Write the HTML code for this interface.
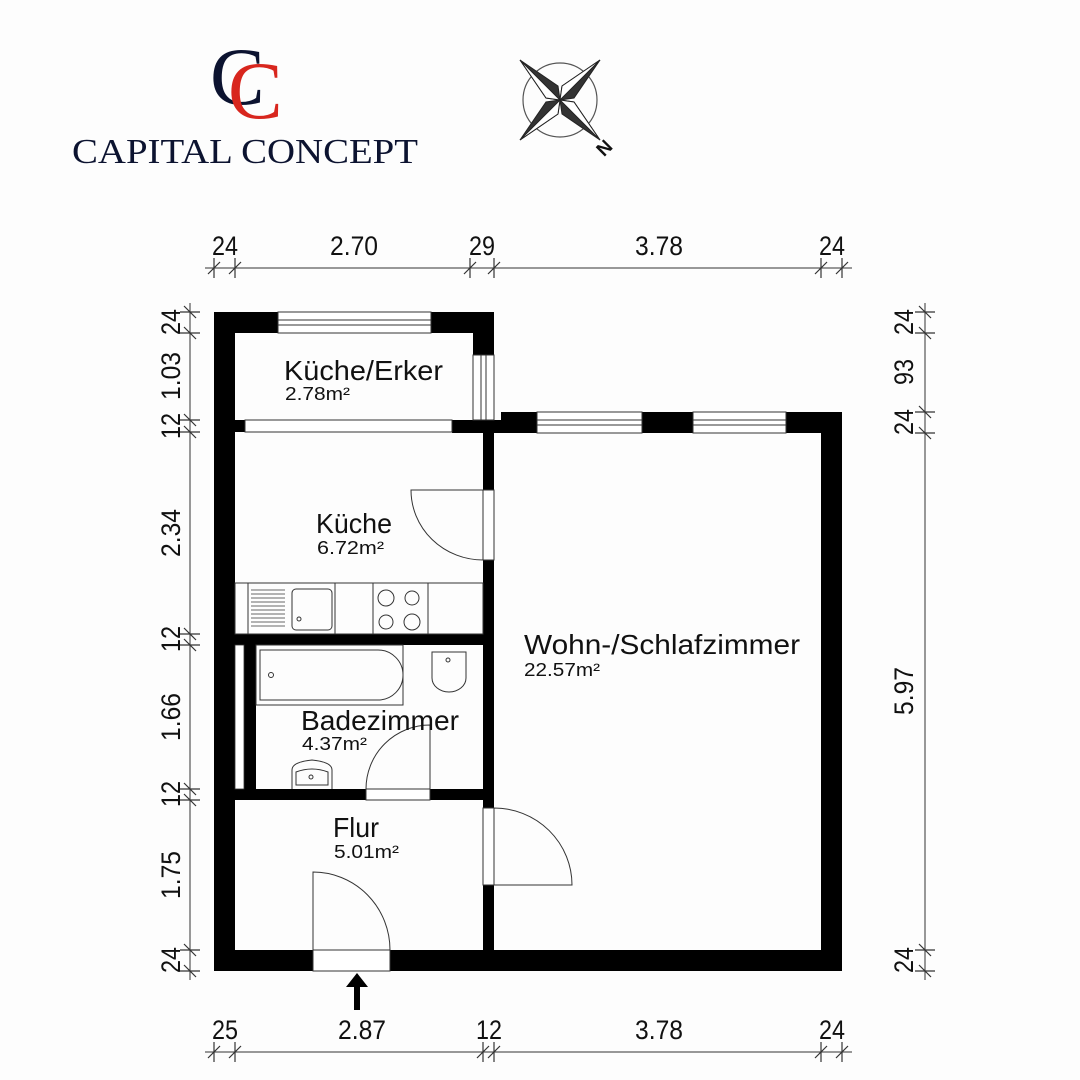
<!DOCTYPE html>
<html><head><meta charset="utf-8"><style>
html,body{margin:0;padding:0;background:#fdfdfd}
svg{display:block}
text{font-family:"Liberation Sans",sans-serif;fill:#111}
.d{font-size:27px}
.r{font-size:28px}
.a{font-size:18px}
</style></head><body>
<svg width="1080" height="1080" viewBox="0 0 1080 1080" xmlns="http://www.w3.org/2000/svg">
<rect width="1080" height="1080" fill="#fdfdfd"/>
<text x="210" y="104" style="font-family:'Liberation Serif',serif;font-size:82px;fill:#0c1330">C</text>
<text x="228" y="118" style="font-family:'Liberation Serif',serif;font-size:82px;fill:#d8261e">C</text>
<text x="72" y="163" style="font-family:'Liberation Serif',serif;font-size:35px;fill:#0c1330" textLength="346" lengthAdjust="spacingAndGlyphs">CAPITAL CONCEPT</text>
<g transform="translate(560,100)">
<circle r="37" fill="none" stroke="#555" stroke-width="1.2"/>
<g stroke="#222" stroke-width="1">
<polygon points="-40,-40 -2,-14 0,0 -14,-2" fill="#333"/>
<polygon points="40,-40 14,-2 0,0 2,-14" fill="#333"/>
<polygon points="40,40 2,14 0,0 14,2" fill="#333"/>
<polygon points="-40,40 -14,2 0,0 -2,14" fill="#333"/>
<polygon points="-40,-40 -14,-2 0,0" fill="#fff"/>
<polygon points="40,-40 2,-14 0,0" fill="#fff"/>
<polygon points="40,40 14,2 0,0" fill="#fff"/>
<polygon points="-40,40 -2,14 0,0" fill="#fff"/>
</g>
<text x="36" y="54" transform="rotate(-45 44 46)" style="font-size:19px;font-weight:bold">N</text>
</g>

<g stroke="#333" stroke-width="1" fill="none">
<line x1="205" y1="268" x2="852" y2="268"/>
<line x1="205" y1="1052" x2="852" y2="1052"/>
<line x1="190" y1="303" x2="190" y2="980"/>
<line x1="925" y1="303" x2="925" y2="980"/>
</g>
<g stroke="#333" stroke-width="1.2">
<g><line x1="214" y1="258" x2="214" y2="278"/><line x1="208" y1="274" x2="220" y2="262"/></g>
<g><line x1="235" y1="258" x2="235" y2="278"/><line x1="229" y1="274" x2="241" y2="262"/></g>
<g><line x1="470" y1="258" x2="470" y2="278"/><line x1="464" y1="274" x2="476" y2="262"/></g>
<g><line x1="494" y1="258" x2="494" y2="278"/><line x1="488" y1="274" x2="500" y2="262"/></g>
<g><line x1="821" y1="258" x2="821" y2="278"/><line x1="815" y1="274" x2="827" y2="262"/></g>
<g><line x1="842" y1="258" x2="842" y2="278"/><line x1="836" y1="274" x2="848" y2="262"/></g>
<g><line x1="214" y1="1042" x2="214" y2="1062"/><line x1="208" y1="1058" x2="220" y2="1046"/></g>
<g><line x1="235" y1="1042" x2="235" y2="1062"/><line x1="229" y1="1058" x2="241" y2="1046"/></g>
<g><line x1="483" y1="1042" x2="483" y2="1062"/><line x1="477" y1="1058" x2="489" y2="1046"/></g>
<g><line x1="494" y1="1042" x2="494" y2="1062"/><line x1="488" y1="1058" x2="500" y2="1046"/></g>
<g><line x1="821" y1="1042" x2="821" y2="1062"/><line x1="815" y1="1058" x2="827" y2="1046"/></g>
<g><line x1="842" y1="1042" x2="842" y2="1062"/><line x1="836" y1="1058" x2="848" y2="1046"/></g>
<line x1="180" y1="312" x2="200" y2="312"/><line x1="184" y1="306" x2="196" y2="318"/>
<line x1="180" y1="333" x2="200" y2="333"/><line x1="184" y1="327" x2="196" y2="339"/>
<line x1="180" y1="420" x2="200" y2="420"/><line x1="184" y1="414" x2="196" y2="426"/>
<line x1="180" y1="432" x2="200" y2="432"/><line x1="184" y1="426" x2="196" y2="438"/>
<line x1="180" y1="634" x2="200" y2="634"/><line x1="184" y1="628" x2="196" y2="640"/>
<line x1="180" y1="645" x2="200" y2="645"/><line x1="184" y1="639" x2="196" y2="651"/>
<line x1="180" y1="789" x2="200" y2="789"/><line x1="184" y1="783" x2="196" y2="795"/>
<line x1="180" y1="800" x2="200" y2="800"/><line x1="184" y1="794" x2="196" y2="806"/>
<line x1="180" y1="950" x2="200" y2="950"/><line x1="184" y1="944" x2="196" y2="956"/>
<line x1="180" y1="971" x2="200" y2="971"/><line x1="184" y1="965" x2="196" y2="977"/>
<line x1="915" y1="312" x2="935" y2="312"/><line x1="919" y1="306" x2="931" y2="318"/>
<line x1="915" y1="333" x2="935" y2="333"/><line x1="919" y1="327" x2="931" y2="339"/>
<line x1="915" y1="412" x2="935" y2="412"/><line x1="919" y1="406" x2="931" y2="418"/>
<line x1="915" y1="433" x2="935" y2="433"/><line x1="919" y1="427" x2="931" y2="439"/>
<line x1="915" y1="950" x2="935" y2="950"/><line x1="919" y1="944" x2="931" y2="956"/>
<line x1="915" y1="971" x2="935" y2="971"/><line x1="919" y1="965" x2="931" y2="977"/>
</g>
<g>
<text x="212" y="255" class="d" textLength="26" lengthAdjust="spacingAndGlyphs">24</text>
<text x="330" y="255" class="d" textLength="48" lengthAdjust="spacingAndGlyphs">2.70</text>
<text x="469" y="255" class="d" textLength="26" lengthAdjust="spacingAndGlyphs">29</text>
<text x="635" y="255" class="d" textLength="48" lengthAdjust="spacingAndGlyphs">3.78</text>
<text x="819" y="255" class="d" textLength="26" lengthAdjust="spacingAndGlyphs">24</text>
<text x="212" y="1039" class="d" textLength="26" lengthAdjust="spacingAndGlyphs">25</text>
<text x="338" y="1039" class="d" textLength="48" lengthAdjust="spacingAndGlyphs">2.87</text>
<text x="476" y="1039" class="d" textLength="26" lengthAdjust="spacingAndGlyphs">12</text>
<text x="635" y="1039" class="d" textLength="48" lengthAdjust="spacingAndGlyphs">3.78</text>
<text x="819" y="1039" class="d" textLength="26" lengthAdjust="spacingAndGlyphs">24</text>
<text transform="translate(180,335) rotate(-90)" class="d" textLength="26" lengthAdjust="spacingAndGlyphs">24</text>
<text transform="translate(180,400) rotate(-90)" class="d" textLength="48" lengthAdjust="spacingAndGlyphs">1.03</text>
<text transform="translate(180,439) rotate(-90)" class="d" textLength="26" lengthAdjust="spacingAndGlyphs">12</text>
<text transform="translate(180,557) rotate(-90)" class="d" textLength="48" lengthAdjust="spacingAndGlyphs">2.34</text>
<text transform="translate(180,652) rotate(-90)" class="d" textLength="26" lengthAdjust="spacingAndGlyphs">12</text>
<text transform="translate(180,741) rotate(-90)" class="d" textLength="48" lengthAdjust="spacingAndGlyphs">1.66</text>
<text transform="translate(180,807) rotate(-90)" class="d" textLength="26" lengthAdjust="spacingAndGlyphs">12</text>
<text transform="translate(180,899) rotate(-90)" class="d" textLength="48" lengthAdjust="spacingAndGlyphs">1.75</text>
<text transform="translate(180,973) rotate(-90)" class="d" textLength="26" lengthAdjust="spacingAndGlyphs">24</text>
<text transform="translate(913,335) rotate(-90)" class="d" textLength="26" lengthAdjust="spacingAndGlyphs">24</text>
<text transform="translate(913,385) rotate(-90)" class="d" textLength="26" lengthAdjust="spacingAndGlyphs">93</text>
<text transform="translate(913,435) rotate(-90)" class="d" textLength="26" lengthAdjust="spacingAndGlyphs">24</text>
<text transform="translate(913,715) rotate(-90)" class="d" textLength="48" lengthAdjust="spacingAndGlyphs">5.97</text>
<text transform="translate(913,973) rotate(-90)" class="d" textLength="26" lengthAdjust="spacingAndGlyphs">24</text>
</g>

<g fill="#000">
<rect x="214" y="312" width="21" height="659"/>
<rect x="214" y="312" width="64" height="21"/>
<rect x="431" y="312" width="63" height="21"/>
<rect x="473" y="312" width="21" height="43"/>
<rect x="235" y="420" width="10" height="12"/>
<rect x="452" y="420" width="49" height="13"/>
<rect x="501" y="412" width="36" height="21"/>
<rect x="642" y="412" width="51" height="21"/>
<rect x="786" y="412" width="56" height="21"/>
<rect x="821" y="412" width="21" height="559"/>
<rect x="214" y="950" width="99" height="21"/>
<rect x="390" y="950" width="452" height="21"/>
<rect x="483" y="420" width="11" height="70"/>
<rect x="483" y="560" width="11" height="248"/>
<rect x="483" y="885" width="11" height="65"/>
<rect x="235" y="634" width="259" height="11"/>
<rect x="244" y="645" width="12" height="144"/>
<rect x="235" y="789" width="131" height="11"/>
<rect x="430" y="789" width="64" height="11"/>
</g>
<g fill="#fff" stroke="#333" stroke-width="1">
<rect x="278" y="312" width="153" height="21"/>
<line x1="278" y1="320" x2="431" y2="320"/><line x1="278" y1="325" x2="431" y2="325"/>
<rect x="473" y="355" width="21" height="65"/>
<line x1="481" y1="355" x2="481" y2="420"/><line x1="486" y1="355" x2="486" y2="420"/>
<rect x="245" y="420" width="207" height="12"/>
<rect x="537" y="412" width="105" height="21"/>
<line x1="537" y1="420" x2="642" y2="420"/><line x1="537" y1="425" x2="642" y2="425"/>
<rect x="693" y="412" width="93" height="21"/>
<line x1="693" y1="420" x2="786" y2="420"/><line x1="693" y1="425" x2="786" y2="425"/>
<rect x="483" y="490" width="11" height="70"/>
<rect x="483" y="808" width="11" height="77"/>
<rect x="313" y="950" width="77" height="21"/>
<rect x="366" y="789" width="64" height="11"/>
</g>
<rect x="235" y="645" width="9" height="144" fill="#fff" stroke="#333" stroke-width="0.8"/>
<g fill="none" stroke="#333" stroke-width="1">
<path d="M483 490 L411 490 A72 70 0 0 0 483 560"/>
<path d="M494 808 L494 885 L572 885 A78 77 0 0 0 494 808"/>
<path d="M313 950 L313 872 A77 78 0 0 1 390 950"/>
<path d="M430 789 L430 725 A64 64 0 0 0 366 789"/>
</g>
<g fill="none" stroke="#333" stroke-width="1">
<rect x="235" y="583" width="248" height="51"/>
<line x1="248" y1="583" x2="248" y2="634"/>
<line x1="335" y1="583" x2="335" y2="634"/>
<line x1="373" y1="583" x2="373" y2="634"/>
<line x1="428" y1="583" x2="428" y2="634"/>
<rect x="292" y="589" width="40" height="41" rx="4"/>
<circle cx="299" cy="619" r="2"/>
<circle cx="386" cy="598" r="8"/><circle cx="412" cy="598" r="7"/>
<circle cx="386" cy="622" r="7"/><circle cx="412" cy="622" r="8"/>
<path d="M260 650 L378 650 A25 25 0 0 1 378 700 L260 700 Z"/>
<rect x="256" y="645" width="147" height="60"/>
<circle cx="271" cy="675" r="2.5"/>
<path d="M432 652 L466 652 L466 678 A17 14 0 0 1 432 678 Z"/>
<circle cx="448" cy="660" r="2"/>
<path d="M292 789 L292 770 Q292 762 312 760 Q332 762 332 770 L332 789"/>
<path d="M296 785 L296 772 Q312 766 328 772 L328 785 Z"/>
<circle cx="311" cy="777" r="2"/>
</g>
<g stroke="#333" stroke-width="0.8">
<line x1="251" y1="590" x2="285" y2="590"/><line x1="251" y1="594" x2="285" y2="594"/>
<line x1="251" y1="598" x2="285" y2="598"/><line x1="251" y1="602" x2="285" y2="602"/>
<line x1="251" y1="606" x2="285" y2="606"/><line x1="251" y1="610" x2="285" y2="610"/>
<line x1="251" y1="614" x2="285" y2="614"/><line x1="251" y1="618" x2="285" y2="618"/>
<line x1="251" y1="622" x2="285" y2="622"/><line x1="251" y1="626" x2="285" y2="626"/>
</g>
<polygon points="357,973 346,987 354,987 354,1010 360,1010 360,987 368,987" fill="#000"/>
<text x="284" y="380" class="r" textLength="159" lengthAdjust="spacingAndGlyphs">Küche/Erker</text>
<text x="285" y="400" class="a" textLength="65" lengthAdjust="spacingAndGlyphs">2.78m²</text>
<text x="316" y="533" class="r" textLength="76" lengthAdjust="spacingAndGlyphs">Küche</text>
<text x="317" y="554" class="a" textLength="67" lengthAdjust="spacingAndGlyphs">6.72m²</text>
<text x="301" y="730" class="r" textLength="158" lengthAdjust="spacingAndGlyphs">Badezimmer</text>
<text x="302" y="750" class="a" textLength="65" lengthAdjust="spacingAndGlyphs">4.37m²</text>
<text x="333" y="837" class="r" textLength="46" lengthAdjust="spacingAndGlyphs">Flur</text>
<text x="334" y="858" class="a" textLength="65" lengthAdjust="spacingAndGlyphs">5.01m²</text>
<text x="524" y="654" class="r" textLength="276" lengthAdjust="spacingAndGlyphs">Wohn-/Schlafzimmer</text>
<text x="524" y="676" class="a" textLength="76" lengthAdjust="spacingAndGlyphs">22.57m²</text>
</svg>
</body></html>
